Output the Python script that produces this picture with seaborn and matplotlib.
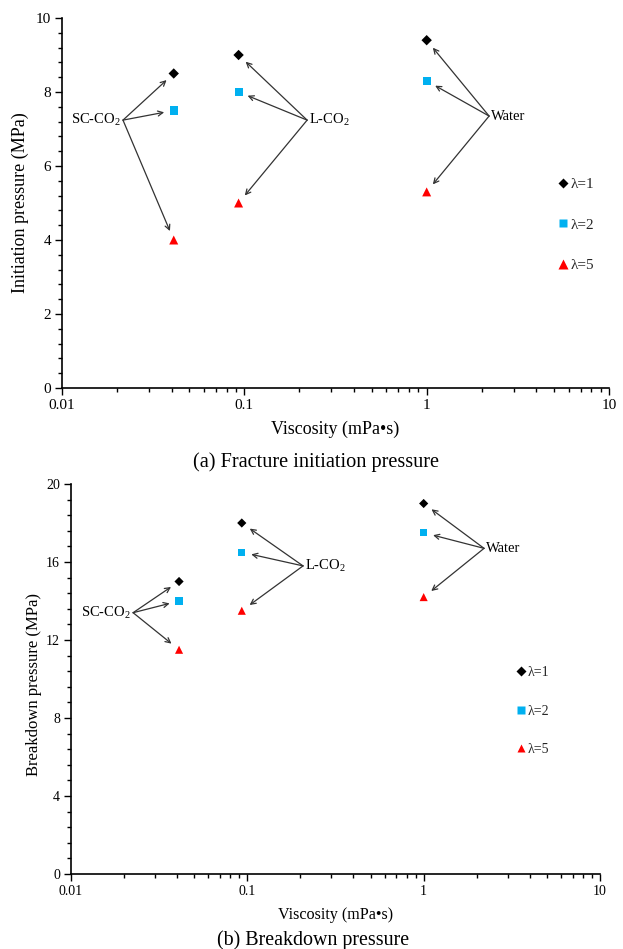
import numpy as np
import pandas as pd
import matplotlib
matplotlib.use("Agg")
import matplotlib.pyplot as plt
import seaborn as sns
from matplotlib.ticker import MultipleLocator, FixedLocator, FixedFormatter, LogLocator, NullFormatter

sns.set_theme(style="white")
plt.rcParams['font.family'] = ['Liberation Serif', 'DejaVu Serif']
plt.rcParams['mathtext.fontset'] = 'custom'
plt.rcParams['mathtext.rm'] = 'Liberation Serif'
plt.rcParams['mathtext.it'] = 'Liberation Serif:italic'

# ---- data ----
fluids = ["SC-CO$_2$", "L-CO$_2$", "Water"]
viscosity = [0.041, 0.093, 1.0]
lambdas = ["λ=1", "λ=2", "λ=5"]
initiation_l1 = [8.5, 9.0, 9.4]
initiation_l2 = [7.5, 8.0, 8.3]
initiation_l5 = [4.0, 5.0, 5.3]
breakdown_l1 = [15.0, 18.0, 19.0]
breakdown_l2 = [14.0, 16.5, 17.5]
breakdown_l5 = [11.5, 13.5, 14.2]
x_ticks = [0.01, 0.1, 1, 10]
x_ticklabels = ["0.01", "0.1", "1", "10"]

# label anchor (arrow origin) positions, data coords
init_label_pos = [(0.0216, 7.24), (0.221, 7.24), (2.2, 7.35)]
break_label_pos = [(0.0225, 13.4), (0.207, 15.8), (2.2, 16.7)]

palette = {"λ=1": "#000000", "λ=2": "#00B0F0", "λ=5": "#FF0000"}
markers = {"λ=1": "D", "λ=2": "s", "λ=5": "^"}


def make_df(l1, l2, l5):
    rows = []
    for lam, vals in zip(lambdas, [l1, l2, l5]):
        for f, v, p in zip(fluids, viscosity, vals):
            rows.append({"fluid": f, "visc": v, "p": p, "lam": lam})
    return pd.DataFrame(rows)


df_a = make_df(initiation_l1, initiation_l2, initiation_l5)
df_b = make_df(breakdown_l1, breakdown_l2, breakdown_l5)

W, H = 623, 949
fig = plt.figure(figsize=(W / 100, H / 100), dpi=100)
ax1 = fig.add_axes([62 / W, 1 - 388 / H, 547 / W, 370 / H])
ax2 = fig.add_axes([71 / W, 1 - 874 / H, 529 / W, 390 / H])


def draw(ax, df, ymax, ymajor, yminor, label_pos, ylabel, tick_fs, xlab_fs, ylab_fs,
         xlab_y, ylab_xy, ann_fs, leg_anchor, leg_fs, leg_sp, msizes):
    sns.scatterplot(data=df, x="visc", y="p", hue="lam", style="lam", size="lam",
                    palette=palette, markers=markers, sizes=msizes, edgecolor="none",
                    ax=ax, legend=True)
    ax.set_xscale("log")
    ax.set_xlim(0.01, 10)
    ax.set_ylim(0, ymax)
    ax.xaxis.set_major_locator(FixedLocator(x_ticks))
    ax.xaxis.set_major_formatter(FixedFormatter(x_ticklabels))
    ax.xaxis.set_minor_locator(LogLocator(base=10, subs=np.arange(2, 10)))
    ax.xaxis.set_minor_formatter(NullFormatter())
    ax.yaxis.set_major_locator(MultipleLocator(ymajor))
    ax.yaxis.set_minor_locator(MultipleLocator(yminor))
    for s in ["top", "right"]:
        ax.spines[s].set_visible(False)
    for s in ["left", "bottom"]:
        ax.spines[s].set_color("black")
        ax.spines[s].set_linewidth(1.2)
    ax.tick_params(axis="both", which="major", direction="out", length=5, width=1,
                   color="black", labelsize=tick_fs, labelcolor="black", pad=3,
                   bottom=True, left=True)
    ax.tick_params(axis="both", which="minor", direction="out", length=3, width=1,
                   color="black", bottom=True, left=True)
    ax.set_xlabel("Viscosity (mPa•s)", fontsize=xlab_fs, color="black")
    ax.set_ylabel(ylabel, fontsize=ylab_fs, color="black")
    ax.xaxis.set_label_coords(0.5, xlab_y)
    ax.yaxis.set_label_coords(*ylab_xy)

    # annotations
    for fluid, (lx, ly) in zip(fluids, label_pos):
        if fluid == "SC-CO$_2$":
            ax.text(lx / 1.03, ly, fluid, fontsize=ann_fs, ha="right", va="center", color="black")
        else:
            ax.text(lx * 1.03, ly, fluid, fontsize=ann_fs, ha="left", va="center", color="black")
        sub = df[df["fluid"] == fluid]
        for _, r in sub.iterrows():
            ax.annotate("", xy=(r["visc"], r["p"]), xytext=(lx, ly),
                        arrowprops=dict(arrowstyle="->", color="#333333", lw=0.9,
                                        shrinkA=0, shrinkB=7, mutation_scale=9))

    h, l = ax.get_legend_handles_labels()
    ax.legend(h, l, loc="upper left", bbox_to_anchor=leg_anchor, bbox_transform=fig.transFigure,
              frameon=False, fontsize=leg_fs, handlelength=0.5, handletextpad=0.2,
              labelspacing=leg_sp, borderpad=0)


draw(ax1, df_a, 10, 2, 0.4, init_label_pos, "Initiation pressure (MPa)",
     11, 13, 13, -0.0895, (-0.06, 0.5), 10.5, (552 / W, 1 - 170 / H), 11, 1.75,
     {"λ=1": 28, "λ=2": 34, "λ=5": 42})
draw(ax2, df_b, 20, 4, 0.8, break_label_pos, "Breakdown pressure (MPa)",
     10, 11.6, 12, -0.0846, (-0.054, 0.487), 10.5, (511 / W, 1 - 659 / H), 10, 1.85,
     {"λ=1": 22, "λ=2": 28, "λ=5": 34})

fig.text(316 / W, 1 - 462 / H, "(a) Fracture initiation pressure", ha="center", va="center",
         fontsize=14.6, color="black")
fig.text(313 / W, 1 - 940 / H, "(b) Breakdown pressure", ha="center", va="center",
         fontsize=14.4, color="black")

fig.savefig("out.png", dpi=100, facecolor="white")
